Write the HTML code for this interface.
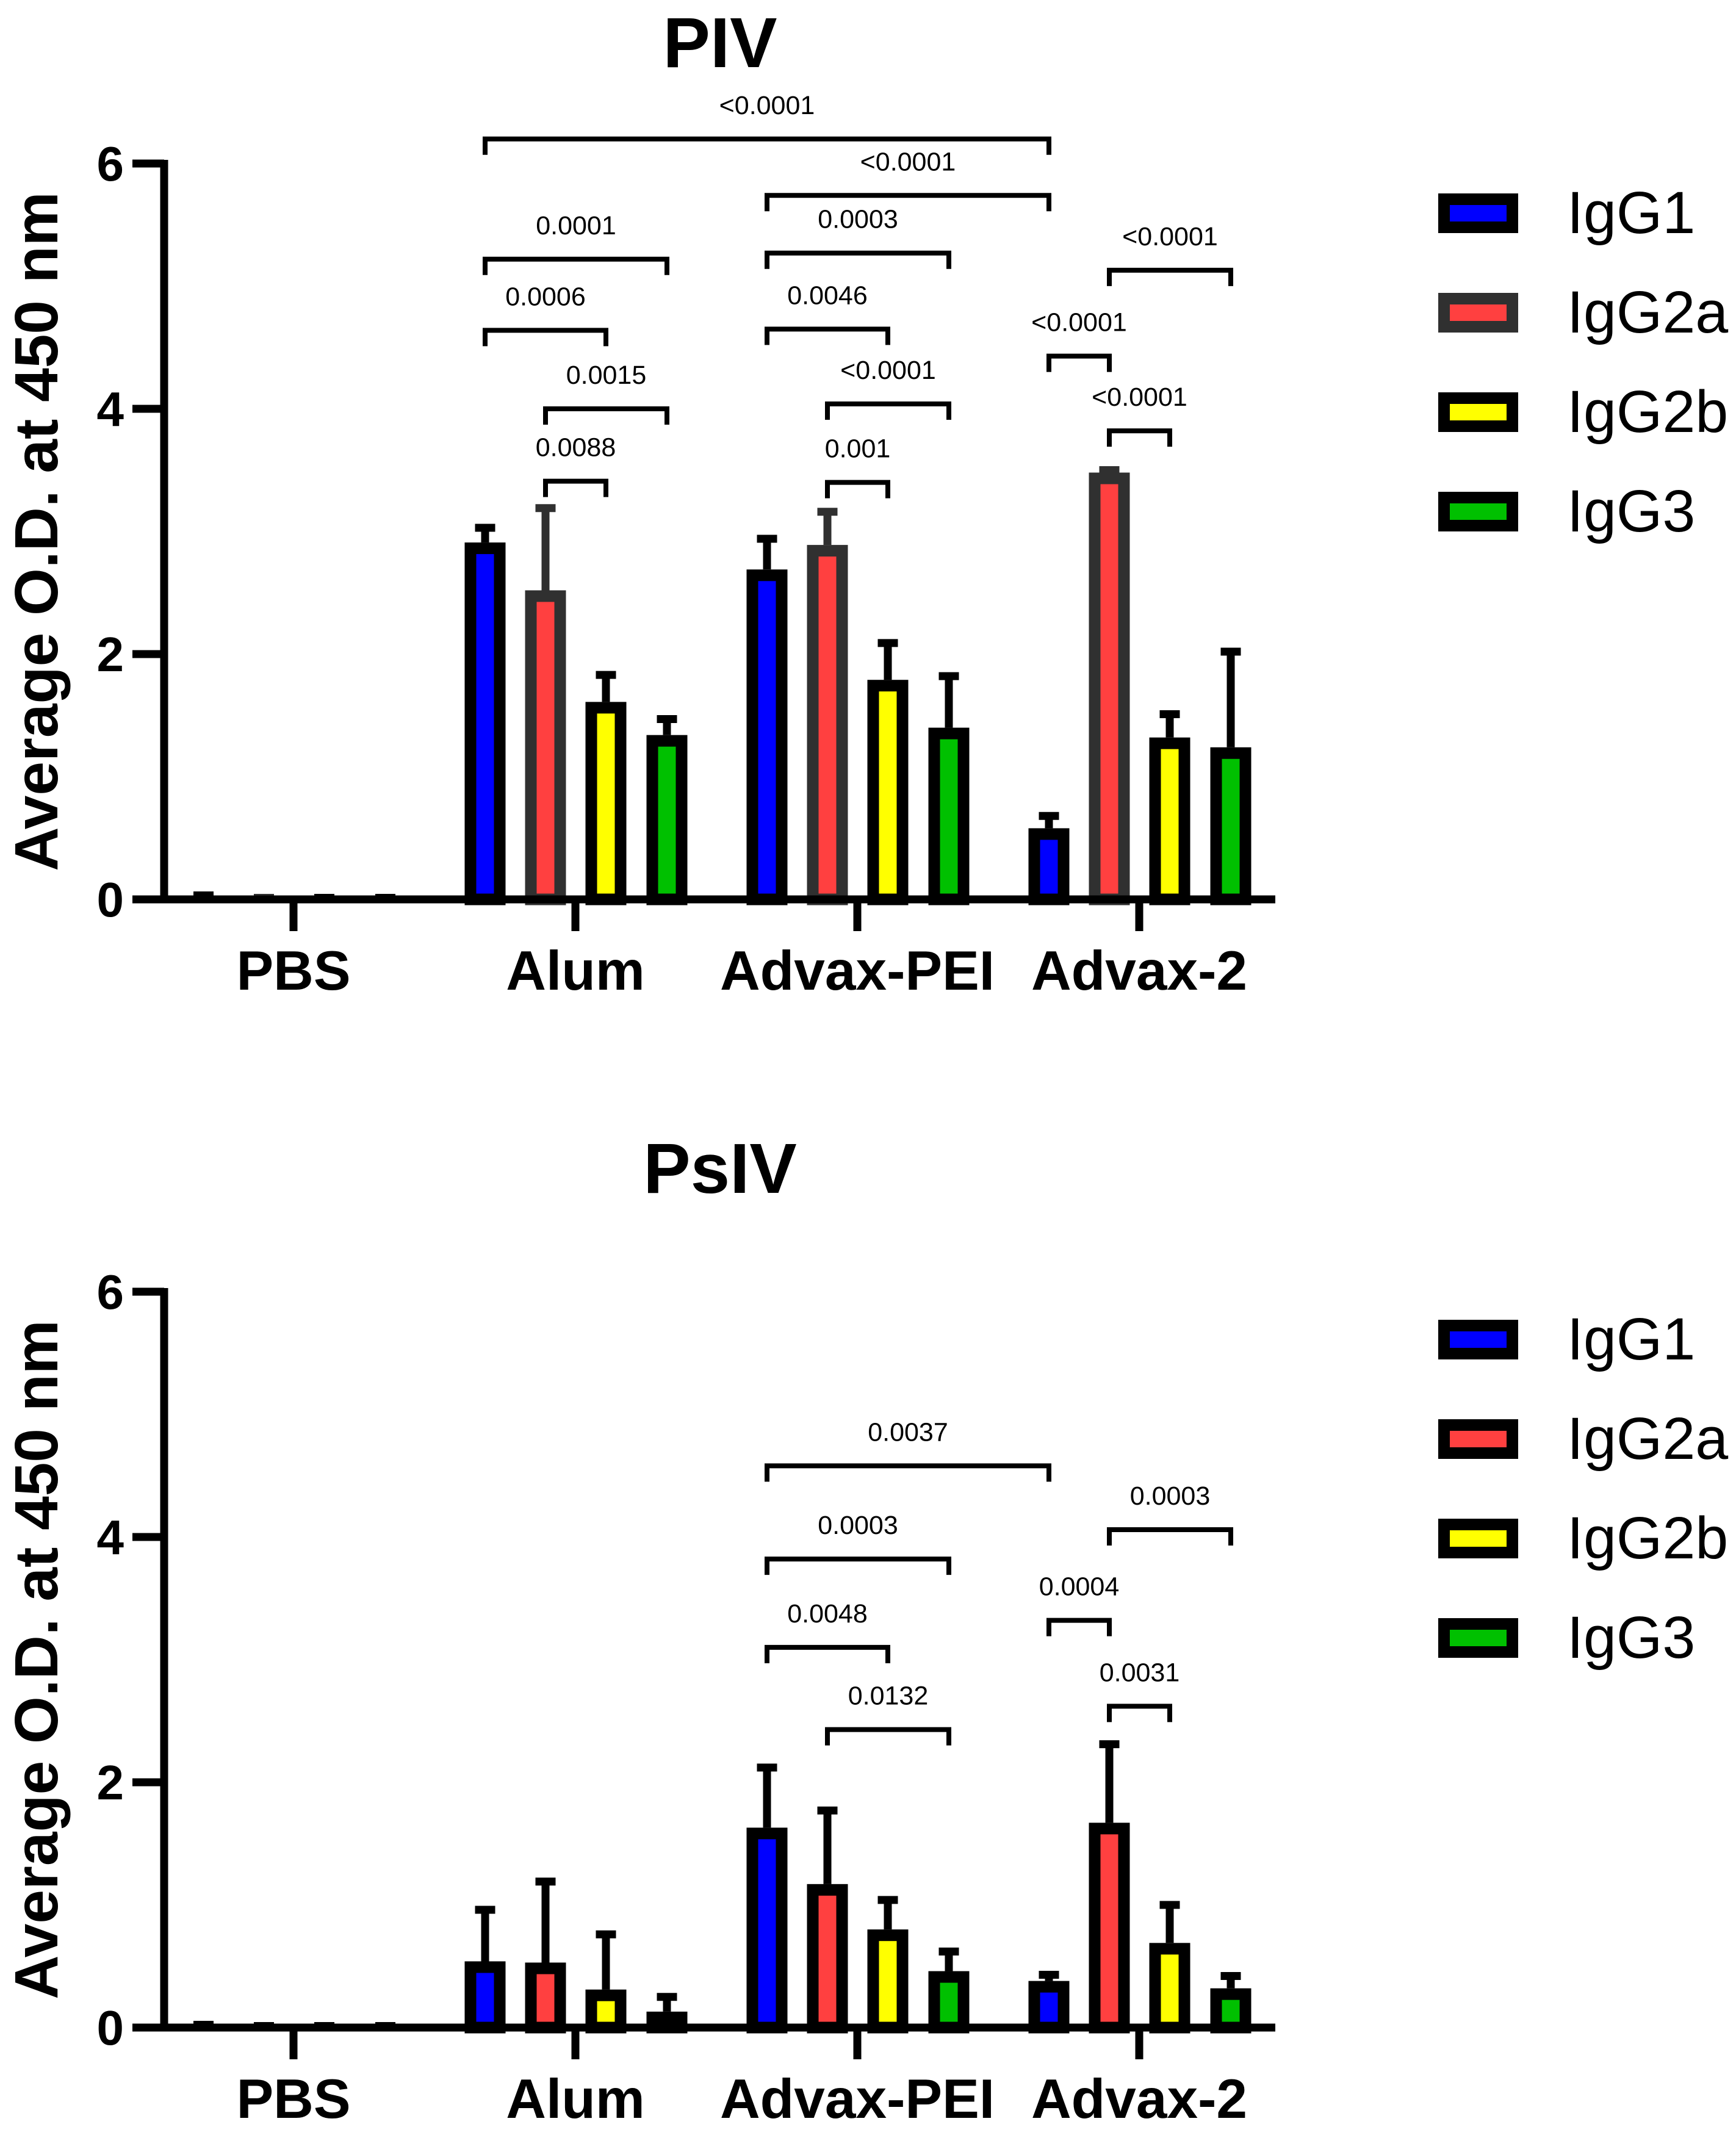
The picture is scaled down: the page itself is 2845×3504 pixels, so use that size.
<!DOCTYPE html>
<html><head><meta charset="utf-8"><style>
html,body{margin:0;padding:0;background:#fff;}
svg{display:block;}
text{font-family:"Liberation Sans",Arial,sans-serif;}
</style></head><body>
<svg id="chart" width="2845" height="3504" viewBox="0 0 2845 3504" xmlns="http://www.w3.org/2000/svg">
<g id="root"></g>
</svg>
<script>
// ---- data ----
const categories = ["PBS","Alum","Advax-PEI","Advax-2"];
const seriesNames = ["IgG1","IgG2a","IgG2b","IgG3"];
const yTicks = [0,2,4,6];
// PIV
const pivIgG1 = [0.03, 2.91, 2.69, 0.58];
const pivIgG2a = [0.01, 2.52, 2.89, 3.48];
const pivIgG2b = [0.01, 1.61, 1.79, 1.32];
const pivIgG3 = [0.01, 1.34, 1.40, 1.24];
const pivErr1 = [0.03, 3.06, 2.97, 0.71];
const pivErr2a = [0.01, 3.22, 3.19, 3.53];
const pivErr2b = [0.01, 1.86, 2.12, 1.54];
const pivErr3 = [0.01, 1.50, 1.85, 2.05];
// brackets: [groupA, seriesA, groupB, seriesB, level, label]
const pivBrackets = [
 [1,0,3,0,6.20,"<0.0001"],
 [1,0,1,3,5.22,"0.0001"],
 [1,0,1,2,4.64,"0.0006"],
 [1,1,1,3,4.00,"0.0015"],
 [1,1,1,2,3.41,"0.0088"],
 [2,0,3,0,5.74,"<0.0001"],
 [2,0,2,3,5.27,"0.0003"],
 [2,0,2,2,4.65,"0.0046"],
 [2,1,2,3,4.04,"<0.0001"],
 [2,1,2,2,3.40,"0.001"],
 [3,1,3,3,5.13,"<0.0001"],
 [3,0,3,1,4.43,"<0.0001"],
 [3,1,3,2,3.82,"<0.0001"]
];
// PsIV
const psivIgG1 = [0.02, 0.54, 1.63, 0.38];
const psivIgG2a = [0.01, 0.53, 1.17, 1.67];
const psivIgG2b = [0.01, 0.31, 0.80, 0.69];
const psivIgG3 = [0.01, 0.13, 0.46, 0.32];
const psivErr1 = [0.02, 0.99, 2.15, 0.46];
const psivErr2a = [0.01, 1.22, 1.80, 2.34];
const psivErr2b = [0.01, 0.79, 1.07, 1.03];
const psivErr3 = [0.01, 0.28, 0.65, 0.45];
const psivBrackets = [
 [2,0,3,0,4.58,"0.0037"],
 [2,0,2,3,3.82,"0.0003"],
 [2,0,2,2,3.10,"0.0048"],
 [2,1,2,3,2.43,"0.0132"],
 [3,1,3,3,4.06,"0.0003"],
 [3,0,3,1,3.32,"0.0004"],
 [3,1,3,2,2.62,"0.0031"]
];

const fills = ["#0000ff","#ff4040","#ffff00","#00c000"];
const NS = "http://www.w3.org/2000/svg";
const root = document.getElementById("root");
function el(tag, attrs, parent){
  const e = document.createElementNS(NS, tag);
  for (const k in attrs) e.setAttribute(k, attrs[k]);
  (parent||root).appendChild(e);
  return e;
}

function drawPanel(p){
  const g = el("g", {});
  
  
  const y0 = p.y0, unit = 201;
  const yScale = v => y0 - v*unit;
  const groupX = i => 481 + i*462;
  const barX = (gi, si) => groupX(gi) + [-148,-49,50,150][si];
  const axisX = 269, axisEnd = 2090;

  const t = el("text",{x:1180,y:p.titleY,"font-size":116,"font-weight":"bold","text-anchor":"middle"},g);
  t.textContent = p.title;
  
  

  const yt = el("text",{x:0,y:0,"font-size":100,"font-weight":"bold","text-anchor":"middle",transform:`translate(94,${y0-603}) rotate(-90)`},g);
  yt.textContent = "Average O.D. at 450 nm";
  
  

  const ya = el("line",{x1:axisX,y1:yScale(6)-6,x2:axisX,y2:y0+6,stroke:"#000","stroke-width":13},g);
  
  
  yTicks.forEach(v=>{
    const tk = el("line",{x1:217,y1:yScale(v),x2:axisX,y2:yScale(v),stroke:"#000","stroke-width":13},g);
    
    
    const tl = el("text",{x:203,y:yScale(v)+28,"font-size":80,"font-weight":"bold","text-anchor":"end"},g);
    tl.textContent = String(v);
    
    
  });

  const vals = p.values, errs = p.errs;
  for (let si=0; si<4; si++){
    for (let gi=0; gi<4; gi++){
      const v = vals[si][gi], e = errs[si][gi];
      const cx = barX(gi, si);
      const border = (si===1 && p.grayRed) ? "#303030" : "#000";
      const top = yScale(v);
      const h = y0 - top;
      if (h < 20){
        const r = el("rect",{x:cx-16,y:top-7,width:33,height:8,fill:border},g);
        
        
        continue;
      }
      const ey = yScale(e);
      const eg = el("g",{},g);
      
      
      el("line",{x1:cx,y1:ey,x2:cx,y2:top,stroke:border,"stroke-width":13},eg);
      el("line",{x1:cx-16.5,y1:ey+6,x2:cx+16.5,y2:ey+6,stroke:border,"stroke-width":13},eg);
      const r = el("rect",{x:cx-33.5+9.5,y:top+9.5,width:67-19,height:Math.max(0,h-9.5),fill:fills[si],stroke:border,"stroke-width":19},g);
      
      
    }
  }

  const xa = el("line",{x1:axisX-6,y1:y0,x2:axisEnd,y2:y0,stroke:"#000","stroke-width":13},g);
  
  
  categories.forEach((c,i)=>{
    const tk = el("line",{x1:groupX(i),y1:y0,x2:groupX(i),y2:y0+52,stroke:"#000","stroke-width":13},g);
    
    
    const tl = el("text",{x:groupX(i),y:y0+148,"font-size":91,"font-weight":"bold","text-anchor":"middle"},g);
    tl.textContent = c;
    
    
  });

  p.brackets.forEach(b=>{
    const xa1 = barX(b[0],b[1]), xb = barX(b[2],b[3]), by = yScale(b[4]);
    const bg = el("g",{},g);
    
    
    el("path",{d:`M${xa1},${by+26} L${xa1},${by} L${xb},${by} L${xb},${by+26}`,fill:"none",stroke:"#000","stroke-width":8},bg);
    const lt = el("text",{x:(xa1+xb)/2,y:by-41,"font-size":43,"text-anchor":"middle"},bg);
    lt.textContent = b[5];
    
    
  });

  const lg = el("g",{},g);
  
  
  seriesNames.forEach((s,i)=>{
    const cy = p.legendY + i*163;
    const border = (i===1 && p.grayRed) ? "#303030" : "#000";
    const eg = el("g",{},lg);
    
    
    el("rect",{x:2357+9.5,y:cy-32+9.5,width:131-19,height:65-19,fill:fills[i],stroke:border,"stroke-width":19},eg);
    const tx = el("text",{x:2568,y:cy+33,"font-size":97},eg);
    tx.textContent = s;
  });
}

drawPanel({name:"piv", title:"PIV", titleY:110, y0:1474, grayRed:true, legendY:349,
  values:[pivIgG1,pivIgG2a,pivIgG2b,pivIgG3], errs:[pivErr1,pivErr2a,pivErr2b,pivErr3], brackets:pivBrackets});
drawPanel({name:"psiv", title:"PsIV", titleY:1955, y0:3323, grayRed:false, legendY:2195,
  values:[psivIgG1,psivIgG2a,psivIgG2b,psivIgG3], errs:[psivErr1,psivErr2a,psivErr2b,psivErr3], brackets:psivBrackets});
</script>
</body></html>
